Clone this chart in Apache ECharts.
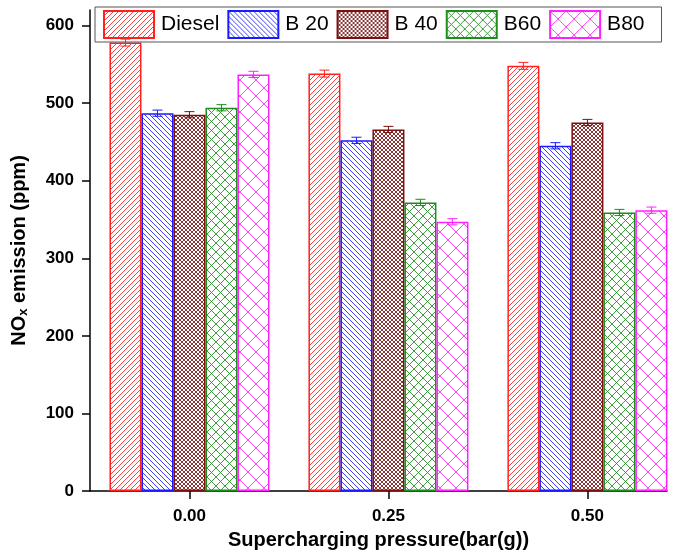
<!DOCTYPE html>
<html><head><meta charset="utf-8">
<script src="https://cdn.jsdelivr.net/npm/echarts@6/dist/echarts.min.js"></script>
<style>html,body{margin:0;padding:0;background:#fff}#c{width:678px;height:555px}</style>
</head><body><div id="c"></div>
<script>
var pressures = [0, 0.25, 0.5];
var xTickLabels = ['0.00', '0.25', '0.50'];
var yTicks = [0, 100, 200, 300, 400, 500, 600];
var seriesNames = ['Diesel', 'B 20', 'B 40', 'B60', 'B80'];
var diesel = [578, 538, 548];
var b20 = [487, 452, 445];
var b40 = [485, 466, 475];
var b60 = [494, 372, 359];
var b80 = [537, 347, 362];
var errDiesel = [4.5, 4.5, 4.5];
var errB20 = [4, 4, 4];
var errB40 = [4, 4, 4];
var errB60 = [4, 4, 4];
var errB80 = [4, 4, 4];

var values = [diesel, b20, b40, b60, b80];
var errors = [errDiesel, errB20, errB40, errB60, errB80];
var colors = ['#ff2020', '#1a1aff', '#7a1010', '#1e8c1e', '#ff20ff'];
var BAR_W = 32;

function makePattern(kind, color, p) {
  var c = document.createElement('canvas');
  c.width = p; c.height = p;
  var g = c.getContext('2d');
  g.fillStyle = '#fff'; g.fillRect(0, 0, p, p);
  g.strokeStyle = color; g.lineWidth = 1;
  function fwd() {
    g.beginPath();
    for (var k = -1; k <= 1; k++) { g.moveTo(k * p, p); g.lineTo(k * p + p, 0); }
    g.stroke();
  }
  function back() {
    g.beginPath();
    for (var k = -1; k <= 1; k++) { g.moveTo(k * p, 0); g.lineTo(k * p + p, p); }
    g.stroke();
  }
  if (kind === 'fwd') fwd();
  else if (kind === 'back') back();
  else { fwd(); back(); }
  return { image: c, repeat: 'repeat' };
}
var patterns = [
  makePattern('fwd', 'rgba(255,30,30,0.85)', 5),
  makePattern('back', 'rgba(30,30,255,0.85)', 5),
  makePattern('cross', 'rgba(120,20,20,0.85)', 4),
  makePattern('cross', 'rgba(30,140,30,0.85)', 9),
  makePattern('cross', 'rgba(255,30,255,0.85)', 16)
];

var series = [];
values.forEach(function (vals, i) {
  series.push({
    name: seriesNames[i], type: 'bar', barWidth: BAR_W, barGap: '0%',
    data: pressures.map(function (p, j) { return [p, vals[j]]; }),
    itemStyle: { color: patterns[i], borderColor: colors[i], borderWidth: 1.5 },
    emphasis: { disabled: true }
  });
});
values.forEach(function (vals, i) {
  series.push({
    type: 'custom', silent: true, z: 5,
    data: pressures.map(function (p, j) { return [p, vals[j], errors[i][j]]; }),
    renderItem: function (params, api) {
      var x = api.value(0), y = api.value(1), e = api.value(2);
      var off = (i - 2) * BAR_W;
      var top = api.coord([x, y + e]), bot = api.coord([x, y - e]);
      var cx = top[0] + off, hw = 5;
      var st = { stroke: colors[i], lineWidth: 1 };
      return { type: 'group', children: [
        { type: 'line', shape: { x1: cx, y1: top[1], x2: cx, y2: bot[1] }, style: st },
        { type: 'line', shape: { x1: cx - hw, y1: top[1], x2: cx + hw, y2: top[1] }, style: st },
        { type: 'line', shape: { x1: cx - hw, y1: bot[1], x2: cx + hw, y2: bot[1] }, style: st }
      ]};
    }
  });
});

var chart = echarts.init(document.getElementById('c'), null, { renderer: 'canvas' });
chart.setOption({
  animation: false,
  backgroundColor: '#fff',
  textStyle: { fontFamily: 'Liberation Sans, Arial, sans-serif' },
  legend: {
    data: seriesNames, left: 95, top: 7, orient: 'horizontal', icon: 'rect',
    itemWidth: 50, itemHeight: 27, itemGap: 8,
    padding: [3, 17, 3, 8], borderColor: '#555', borderWidth: 1,
    textStyle: { fontSize: 21, color: '#000', fontFamily: 'Liberation Sans, Arial, sans-serif', padding: [0, 0, 0, 2] },
    selectedMode: false
  },
  grid: { left: 90, right: 11, top: 10, bottom: 63, containLabel: false },
  xAxis: {
    type: 'value', min: -0.125, max: 0.6,
    name: 'Supercharging pressure(bar(g))', nameLocation: 'middle', nameGap: 39,
    nameTextStyle: { fontSize: 20, fontWeight: 'bold', color: '#000', fontFamily: 'Liberation Sans, Arial, sans-serif' },
    axisLine: { show: true, onZero: false, lineStyle: { color: '#000', width: 1.5 } },
    axisTick: { show: true, length: 8, inside: false, customValues: pressures, lineStyle: { color: '#000', width: 1.5 } },
    axisLabel: { customValues: pressures, margin: 17, fontSize: 17, fontWeight: 'bold', color: '#000',
      formatter: function (v) { var k = pressures.indexOf(Math.round(v * 100) / 100); return k >= 0 ? xTickLabels[k] : ''; } },
    splitLine: { show: false }
  },
  yAxis: {
    type: 'value', min: 0, max: 620,
    name: 'NO{sub|x} emission (ppm)', nameLocation: 'middle', nameGap: 60, nameRotate: 90,
    nameTextStyle: { fontSize: 20, fontWeight: 'bold', color: '#000', fontFamily: 'Liberation Sans, Arial, sans-serif',
      rich: { sub: { fontSize: 13, fontWeight: 'bold', verticalAlign: 'bottom', padding: [8, 0, 0, 0], color: '#000' } } },
    axisLine: { show: true, onZero: false, lineStyle: { color: '#000', width: 1.5 } },
    axisTick: { show: true, length: 8, customValues: yTicks, lineStyle: { color: '#000', width: 1.5 } },
    axisLabel: { customValues: yTicks, margin: 16, fontSize: 17, fontWeight: 'bold', color: '#000' },
    splitLine: { show: false }
  },
  series: series
});
</script></body></html>
